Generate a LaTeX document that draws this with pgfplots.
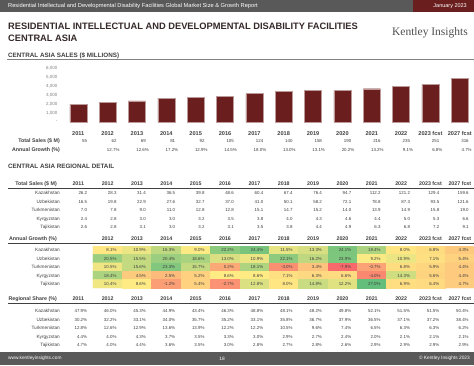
\documentclass[border=0pt]{standalone}
\usepackage{pgfplots}
\pgfplotsset{compat=1.18}
\usepackage{pgfplotstable}
\usepackage{fontspec}
\setmainfont{Liberation Sans}
\newfontfamily\serifkent{Liberation Serif}
\definecolor{barred}{HTML}{6B1E1E}
\definecolor{bandgray}{HTML}{595959}
\definecolor{titlec}{HTML}{352828}
\definecolor{txt}{HTML}{404040}
\definecolor{kentgray}{HTML}{505050}

\pgfplotstableread{
x y
0 1950
1 2150
2 2350
3 2650
4 2750
5 2850
6 3150
7 3400
8 3550
9 3500
10 3700
11 4000
12 4150
13 4850
}\sales

\pgfplotstableread{
x y v
1 1 8.1
2 1 10.9
3 1 16.3
4 1 9.0
5 1 22.2
6 1 24.4
7 1 11.5
8 1 13.3
9 1 24.1
10 1 18.4
11 1 8.0
12 1 6.8
13 1 4.3
1 2 20.5
2 2 15.5
3 2 20.4
4 2 18.6
5 2 13.0
6 2 10.9
7 2 22.1
8 2 16.2
9 2 23.9
10 2 9.2
11 2 10.9
12 2 7.1
13 2 5.4
1 3 10.5
2 3 15.6
3 3 23.3
4 3 15.7
5 3 0.2
6 3 18.1
7 3 -3.0
8 3 3.4
9 3 -7.9
10 3 -0.7
11 3 6.8
12 3 5.9
13 3 4.4
1 4 18.4
2 4 4.5
3 4 2.5
4 4 5.2
5 4 8.6
6 4 8.6
7 4 7.1
8 4 6.3
9 4 6.6
10 4 -4.0
11 4 14.3
12 4 5.6
13 4 4.4
1 5 10.4
2 5 8.6
3 5 -1.2
4 5 5.4
5 5 -2.7
6 5 12.8
7 5 8.0
8 5 14.8
9 5 12.2
10 5 27.0
11 5 6.9
12 5 6.4
13 5 4.7
}\heat

\tikzset{
 rowname/.style={anchor=east, inner sep=0, font=\fontsize{4.7}{5}\selectfont, text=txt, text height=3.3pt, text depth=0pt},
 val/.style={anchor=east, inner sep=0, font=\fontsize{4.4}{5}\selectfont, text=txt, text height=3.2pt, text depth=0pt},
 hdr/.style={anchor=center, inner sep=0, font=\bfseries\fontsize{5.3}{6}\selectfont, text=txt, text height=3.8pt, text depth=0pt},
 hdrname/.style={anchor=east, inner sep=0, font=\bfseries\fontsize{5.3}{6}\selectfont, text=txt, text height=3.8pt, text depth=0pt},
}
% #1 y, #2 name, #3 list, #4 suffix, #5 start column
\newcommand\tablerow[5]{%
  \node[rowname] at (60,#1) {#2};
  \foreach \v [count=\i from #5] in {#3} \node[val] at ({78.3+29.35*\i+9},#1) {\v#4};
}
\newcommand\yearheader[2]{%
  \foreach \yr [count=\i from #2] in {#1} \node[hdr] at ({78.3+29.35*\i},\hy) {\yr};
}

\begin{document}
\begin{tikzpicture}[x=1pt,y=-1pt]
\useasboundingbox (0,0) rectangle (474,365);
\fill[white] (0,0) rectangle (474,365);
% top banner
\fill[bandgray] (0,0) rectangle (413,12);
\fill[barred] (413,0) rectangle (474,12);
\node[anchor=west, text=white, inner sep=0, font=\fontsize{5.7}{6}\selectfont] at (8,6) {Residential Intellectual and Developmental Disability Facilities Global Market Size \& Growth Report};
\node[anchor=east, text=white, inner sep=0, font=\fontsize{5.5}{6}\selectfont] at (467,6) {January 2023};
% titles
\node[anchor=west, inner sep=0, text=titlec, font=\bfseries\fontsize{9.3}{10}\selectfont] at (8,26) {RESIDENTIAL INTELLECTUAL AND DEVELOPMENTAL DISABILITY FACILITIES};
\node[anchor=west, inner sep=0, text=titlec, font=\bfseries\fontsize{9.3}{10}\selectfont] at (8,38) {CENTRAL ASIA};
\node[anchor=east, inner sep=0, text=kentgray, font=\serifkent\fontsize{11.5}{13}\selectfont] at (468,33) {Kentley Insights};
% section 1
\node[anchor=west, inner sep=0, text=txt, font=\bfseries\fontsize{6.3}{7}\selectfont] at (8,56) {CENTRAL ASIA SALES (\$ MILLIONS)};
\draw[gray, line width=0.8pt] (7,59.8) -- (474,59.8);

\begin{axis}[
 at={(63.6pt,-122pt)}, anchor=south west, scale only axis,
 width=410.9pt, height=54pt,
 xmin=-0.5, xmax=13.5, ymin=0, ymax=6000,
 axis line style={draw=none}, major tick length=0pt,
 ytick={0,1000,2000,3000,4000,5000,6000},
 yticklabels={-,{1,000},{2,000},{3,000},{4,000},{5,000},{6,000}},
 yticklabel style={font=\fontsize{4.5}{5}\selectfont, text=gray, inner sep=0, xshift=-6pt},
 xtick={0,1,2,3,4,5,6,7,8,9,10,11,12,13},
 xticklabels={2011,2012,2013,2014,2015,2016,2017,2018,2019,2020,2021,2022,{2023 fcst},{2027 fcst}},
 xticklabel style={font=\bfseries\fontsize{5.6}{6}\selectfont, text=txt, inner sep=0, yshift=-9pt},
 ybar, bar width=17pt, clip=false]
\addplot[fill=barred, draw=barred!45!white, line width=0.35pt] table[x=x,y=y]{\sales};
\end{axis}

\node[hdrname] at (60,140.5) {Total Sales (\$ M)};
\node[hdrname] at (60,149.5) {Annual Growth (\%)};
\foreach \v [count=\i from 0] in {55,62,69,81,92,105,124,140,158,190,216,235,251,316}
  \node[val] at ({78.3+29.35*\i+9},140.5) {\v};
\foreach \v [count=\i from 1] in {12.7,12.6,17.2,12.9,14.5,18.0,13.0,13.1,20.2,13.2,9.1,6.8,4.7}
  \node[val] at ({78.3+29.35*\i+12},149.5) {\v\%};

% section 2
\node[anchor=west, inner sep=0, text=txt, font=\bfseries\fontsize{6.3}{7}\selectfont] at (8,166) {CENTRAL ASIA REGIONAL DETAIL};

% Total sales table
\def\hy{184}
\node[hdrname] at (57,\hy) {Total Sales (\$ M)};
\yearheader{2011,2012,2013,2014,2015,2016,2017,2018,2019,2020,2021,2022,2023 fcst,2027 fcst}{0}
\draw[txt, line width=0.9pt] (8,188.2) -- (474,188.2);
\tablerow{193}{Kazakhstan}{26.2,28.3,31.4,36.5,39.8,48.6,60.4,67.4,76.4,94.7,112.2,121.2,129.4,159.6}{}{0}
\tablerow{201.5}{Uzbekistan}{16.5,19.8,22.9,27.6,32.7,37.0,41.0,50.1,58.2,72.1,78.8,87.3,93.5,121.6}{}{0}
\tablerow{210}{Turkmenistan}{7.0,7.8,9.0,11.0,12.8,12.8,15.1,14.7,15.2,14.0,13.9,14.9,15.8,19.0}{}{0}
\tablerow{218.5}{Kyrgyzstan}{2.4,2.8,3.0,3.0,3.2,3.5,3.8,4.0,4.3,4.6,4.4,5.0,5.3,6.6}{}{0}
\tablerow{227}{Tajikistan}{2.6,2.8,3.1,3.0,3.2,3.1,3.5,3.8,4.4,4.9,6.3,6.8,7.2,9.1}{}{0}

% Annual growth heatmap
\begin{axis}[
 at={(92.98pt,-246pt)}, anchor=north west, scale only axis,
 width=381.55pt, height=42pt,
 xmin=0.5, xmax=13.5, ymin=0.5, ymax=5.5, y dir=reverse,
 hide axis,
 colormap={rgy}{rgb255(0pt)=(248,105,107); rgb255(165pt)=(255,235,132); rgb255(349pt)=(99,190,123)},
 point meta min=-7.9, point meta max=27.0]
\addplot[matrix plot*, mesh/cols=13, point meta=explicit] table[x=x,y=y,meta=v]{\heat};
\end{axis}

\def\hy{239}
\node[hdrname] at (57,\hy) {Annual Growth (\%)};
\yearheader{2012,2013,2014,2015,2016,2017,2018,2019,2020,2021,2022,2023 fcst,2027 fcst}{1}
\draw[txt, line width=0.9pt] (8,243.2) -- (474,243.2);
\tablerow{250.2}{Kazakhstan}{8.1,10.9,16.3,9.0,22.2,24.4,11.5,13.3,24.1,18.4,8.0,6.8,4.3}{\%}{1}
\tablerow{258.6}{Uzbekistan}{20.5,15.5,20.4,18.6,13.0,10.9,22.1,16.2,23.9,9.2,10.9,7.1,5.4}{\%}{1}
\tablerow{267}{Turkmenistan}{10.5,15.6,23.3,15.7,0.2,18.1,-3.0,3.4,-7.9,-0.7,6.8,5.9,4.4}{\%}{1}
\tablerow{275.4}{Kyrgyzstan}{18.4,4.5,2.5,5.2,8.6,8.6,7.1,6.3,6.6,-4.0,14.3,5.6,4.4}{\%}{1}
\tablerow{283.8}{Tajikistan}{10.4,8.6,-1.2,5.4,-2.7,12.8,8.0,14.8,12.2,27.0,6.9,6.4,4.7}{\%}{1}

% Regional share
\def\hy{299}
\node[hdrname] at (57,\hy) {Regional Share (\%)};
\yearheader{2011,2012,2013,2014,2015,2016,2017,2018,2019,2020,2021,2022,2023 fcst,2027 fcst}{0}
\draw[txt, line width=0.9pt] (8,303.2) -- (474,303.2);
\tablerow{311}{Kazakhstan}{47.9,46.0,45.3,44.9,43.4,46.3,48.8,48.1,48.2,49.8,52.1,51.5,51.5,50.4}{\%}{0}
\tablerow{319.5}{Uzbekistan}{30.2,32.2,33.1,34.0,35.7,35.2,33.1,35.8,36.7,37.9,36.5,37.1,37.2,38.4}{\%}{0}
\tablerow{328}{Turkmenistan}{12.8,12.6,12.9,13.6,13.9,12.2,12.2,10.5,9.6,7.4,6.5,6.3,6.3,6.2}{\%}{0}
\tablerow{336.5}{Kyrgyzstan}{4.4,4.0,4.3,3.7,3.5,3.3,3.0,2.9,2.7,2.4,2.0,2.1,2.1,2.1}{\%}{0}
\tablerow{345}{Tajikistan}{4.7,4.0,4.4,3.6,3.5,3.0,2.8,2.7,2.8,2.6,2.9,2.9,2.9,2.9}{\%}{0}

% footer
\fill[bandgray] (0,352) rectangle (474,365);
\node[anchor=west, text=white, inner sep=0, font=\fontsize{4.8}{5}\selectfont] at (8,358.5) {www.kentleyinsights.com};
\node[anchor=center, text=white, inner sep=0, font=\fontsize{4.8}{5}\selectfont] at (222,358.5) {18};
\node[anchor=east, text=white, inner sep=0, font=\fontsize{4.8}{5}\selectfont] at (470,358.5) {\textcopyright{} Kentley Insights 2023};
\end{tikzpicture}
\end{document}
